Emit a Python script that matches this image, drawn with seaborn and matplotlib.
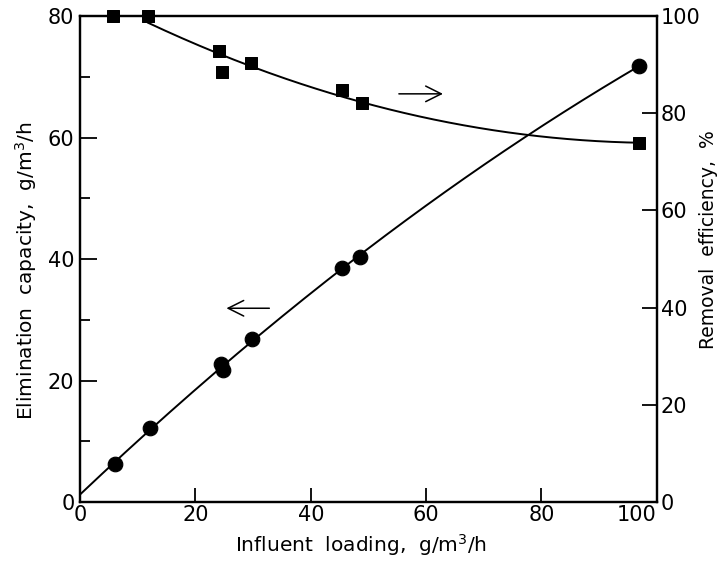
import numpy as np
import pandas as pd
import matplotlib
matplotlib.use("Agg")
import matplotlib.pyplot as plt
from matplotlib.ticker import MultipleLocator
import seaborn as sns

# Data
ec_load = [6.0, 12.1, 24.4, 24.8, 29.9, 45.4, 48.5, 96.9]
ec_vals = [6.2, 12.2, 22.7, 21.8, 26.8, 38.5, 40.3, 71.8]
re_load = [5.8, 11.7, 24.1, 24.6, 29.6, 45.4, 48.8, 96.9]
re_vals = [100.0, 100.0, 92.8, 88.4, 90.4, 84.7, 82.2, 73.8]

x_ticks = [0, 20, 40, 60, 80, 100]
left_ticks = [0, 20, 40, 60, 80]
right_ticks = [0, 20, 40, 60, 80, 100]

sns.set_style("ticks")
plt.rcParams['font.family'] = ['DejaVu Sans']
plt.rcParams['text.color'] = 'black'
plt.rcParams['axes.labelcolor'] = 'black'
plt.rcParams['xtick.color'] = 'black'
plt.rcParams['ytick.color'] = 'black'

fig = plt.figure(figsize=(7.21, 5.65), dpi=100)
ax = fig.add_axes([0.111, 0.1115, 0.8, 0.86])
ax2 = ax.twinx()

# Fitted curves derived from the data
ec_fit = np.polyfit(ec_load, ec_vals, 2)
xe = np.linspace(0, max(ec_load), 200)
df_ecfit = pd.DataFrame({"x": xe, "y": np.polyval(ec_fit, xe)})

re_sel = [(a, b) for a, b in zip(re_load, re_vals) if a >= 11]
re_fit = np.polyfit([a for a, b in re_sel], [b for a, b in re_sel], 2)
xr = np.linspace(min(a for a, b in re_sel), max(re_load), 200)
df_refit = pd.DataFrame({"x": xr, "y": np.polyval(re_fit, xr)})

df_ec = pd.DataFrame({"x": ec_load, "y": ec_vals})
df_re = pd.DataFrame({"x": re_load, "y": re_vals})

sns.lineplot(data=df_ecfit, x="x", y="y", ax=ax, color="black", lw=1.4, clip_on=False)
sns.scatterplot(data=df_ec, x="x", y="y", ax=ax, color="black", marker="o", s=110,
                edgecolor="black", zorder=5, clip_on=False)
sns.lineplot(data=df_refit, x="x", y="y", ax=ax2, color="black", lw=1.4, clip_on=False)
sns.scatterplot(data=df_re, x="x", y="y", ax=ax2, color="black", marker="s", s=80,
                edgecolor="black", zorder=5, clip_on=False)

ax.set_xlim(0, 100)
ax.set_ylim(0, 80)
ax2.set_ylim(0, 100)
ax.set_xticks(x_ticks)
ax.set_yticks(left_ticks)
ax.yaxis.set_minor_locator(MultipleLocator(10))
ax2.set_yticks(right_ticks)

fs = 15
ax.tick_params(axis='x', direction='in', length=10, width=1.3, labelsize=fs, pad=2, top=False)
ax.tick_params(axis='y', which='major', direction='in', length=12, width=1.3, labelsize=fs, pad=4, right=False)
ax.tick_params(axis='y', which='minor', direction='in', length=7, width=1.3, right=False)
ax2.tick_params(axis='y', direction='in', length=11, width=1.3, labelsize=fs, pad=3)
ax.get_xticklabels()[-1].set_horizontalalignment('right')

for a in (ax, ax2):
    for s in a.spines.values():
        s.set_linewidth(1.6)
        s.set_color("black")

ax.set_xlabel("Influent  loading,  g/m$^3$/h", fontsize=14.5)
ax.set_ylabel("Elimination  capacity,  g/m$^3$/h", fontsize=14.5)
ax2.set_ylabel("Removal  efficiency,  %", fontsize=13.5, rotation=90)
ax.xaxis.set_label_coords(0.488, -0.061)
ax.yaxis.set_label_coords(-0.071, 0.475)
ax2.yaxis.set_label_coords(1.073, 0.539)

# Arrows indicating which axis each curve belongs to
ax2.annotate("", xy=(63.4, 84), xytext=(54.8, 84),
             arrowprops=dict(arrowstyle="->", color="black", lw=1.1, mutation_scale=28))
ax.annotate("", xy=(24.9, 31.9), xytext=(33.3, 31.9),
            arrowprops=dict(arrowstyle="->", color="black", lw=1.1, mutation_scale=28))

fig.savefig("out.png", dpi=100)
